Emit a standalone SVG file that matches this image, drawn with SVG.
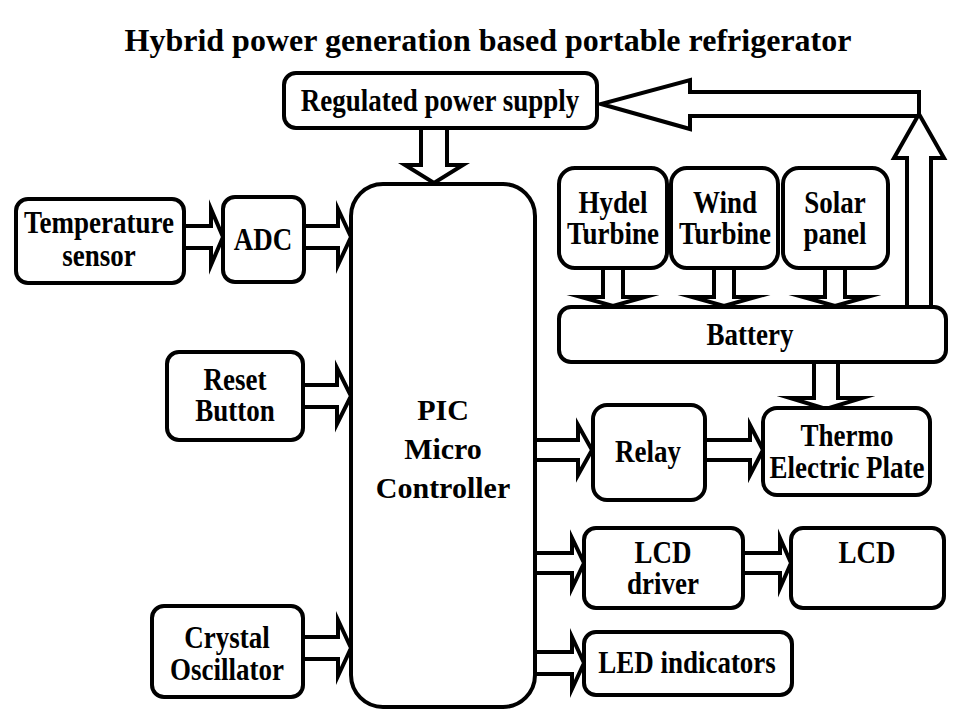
<svg xmlns="http://www.w3.org/2000/svg" width="960" height="720" viewBox="0 0 960 720">
<style>
.box{fill:#fff;stroke:#000;stroke-width:4}
.arr{fill:#fff;stroke:#000;stroke-width:4;stroke-linejoin:miter;stroke-miterlimit:10}
text{font-family:"Liberation Serif","Times New Roman",serif;font-weight:bold;fill:#000;text-anchor:middle}
.t{font-size:27px}
.pic{font-size:30px}
.title{font-size:31px}
</style>
<rect width="960" height="720" fill="#fff"/>
<text class="title" x="488" y="51" textLength="727" lengthAdjust="spacingAndGlyphs">Hybrid power generation based portable refrigerator</text>

<g id="connectors">
<path class="arr" d="M184,226 H211 V209 L223,237 L211,265 V248 H184"/>
<path class="arr" d="M304,226 H338 V209 L351,237 L338,265 V248 H304"/>
<path class="arr" d="M303,385 H337 V368 L351,396 L337,424 V407 H303"/>
<path class="arr" d="M303,637 H338 V620 L351,648 L338,676 V659 H303"/>
<path class="arr" d="M535,440 H578 V425 L592,450 L578,475 V460 H535"/>
<path class="arr" d="M705,440 H750 V425 L763,450 L750,475 V460 H705"/>
<path class="arr" d="M535,553 H572 V538 L584,563 L572,588 V573 H535"/>
<path class="arr" d="M743,553 H780 V538 L791,563 L780,588 V573 H743"/>
<path class="arr" d="M535,652 H572 V637 L584,663 L572,689 V674 H535"/>
<path class="arr" d="M421,128 V165 H405 L434,183 L463,165 H447 V128"/>
<path class="arr" d="M603,268 V297 H581 L613,306 L645,297 H623 V268"/>
<path class="arr" d="M714,268 V297 H692 L724,306 L756,297 H734 V268"/>
<path class="arr" d="M825,268 V297 H803 L835,306 L867,297 H845 V268"/>
<path class="arr" d="M814,362 V398 H790 L826,409 L862,398 H838 V362"/>
<path class="arr" d="M919,92 H690 V80 L601,104 L690,129 V116 H919 Z"/>
<path class="arr" d="M907,306 V158 H894 L919,114 L944,158 H931 V306"/>
</g>

<g id="rps"><rect class="box" x="284" y="73" width="313" height="55" rx="12"/>
<text class="t" transform="translate(440 111) scale(1 1.15)">Regulated power supply</text></g>
<g id="pic"><rect class="box" x="351" y="184" width="184" height="523" rx="32"/>
<text class="pic" x="443" y="420">PIC</text><text class="pic" x="443" y="459">Micro</text><text class="pic" x="443" y="498">Controller</text></g>
<g id="temp"><rect class="box" x="16" y="199" width="168" height="84" rx="12"/>
<text class="t" transform="translate(99 233) scale(1 1.15)">Temperature</text><text class="t" transform="translate(99 266) scale(1 1.15)">sensor</text></g>
<g id="adc"><rect class="box" x="223" y="197" width="81" height="85" rx="12"/>
<text class="t" transform="translate(263 250) scale(1 1.15)">ADC</text></g>
<g id="reset"><rect class="box" x="167" y="352" width="136" height="88" rx="12"/>
<text class="t" transform="translate(235 390) scale(1 1.15)">Reset</text><text class="t" transform="translate(235 421) scale(1 1.15)">Button</text></g>
<g id="crystal"><rect class="box" x="152" y="606" width="151" height="91" rx="12"/>
<text class="t" transform="translate(227 648) scale(1 1.15)">Crystal</text><text class="t" transform="translate(227 680) scale(1 1.15)">Oscillator</text></g>
<g id="hydel"><rect class="box" x="559" y="168" width="108" height="100" rx="16"/>
<text class="t" transform="translate(613 213) scale(1 1.15)">Hydel</text><text class="t" transform="translate(613 244) scale(1 1.15)">Turbine</text></g>
<g id="wind"><rect class="box" x="671" y="168" width="107" height="100" rx="16"/>
<text class="t" transform="translate(725 213) scale(1 1.15)">Wind</text><text class="t" transform="translate(725 244) scale(1 1.15)">Turbine</text></g>
<g id="solar"><rect class="box" x="783" y="168" width="105" height="100" rx="16"/>
<text class="t" transform="translate(835 213) scale(1 1.15)">Solar</text><text class="t" transform="translate(835 244) scale(1 1.15)">panel</text></g>
<g id="battery"><rect class="box" x="559" y="307" width="387" height="55" rx="12"/>
<text class="t" transform="translate(750 345) scale(1 1.15)">Battery</text></g>
<g id="relay"><rect class="box" x="593" y="405" width="112" height="95" rx="14"/>
<text class="t" transform="translate(648 462) scale(1 1.15)">Relay</text></g>
<g id="thermo"><rect class="box" x="763" y="408" width="167" height="87" rx="14"/>
<text class="t" transform="translate(847 446) scale(1 1.15)">Thermo</text><text class="t" transform="translate(847 478) scale(1 1.15)">Electric Plate</text></g>
<g id="lcddriver"><rect class="box" x="584" y="528" width="159" height="80" rx="12"/>
<text class="t" transform="translate(663 563) scale(1 1.15)">LCD</text><text class="t" transform="translate(663 594) scale(1 1.15)">driver</text></g>
<g id="lcd"><rect class="box" x="791" y="528" width="153" height="80" rx="12"/>
<text class="t" transform="translate(867 563) scale(1 1.15)">LCD</text></g>
<g id="led"><rect class="box" x="584" y="632" width="208" height="63" rx="12"/>
<text class="t" transform="translate(687 673) scale(1 1.15)">LED indicators</text></g>
</svg>
